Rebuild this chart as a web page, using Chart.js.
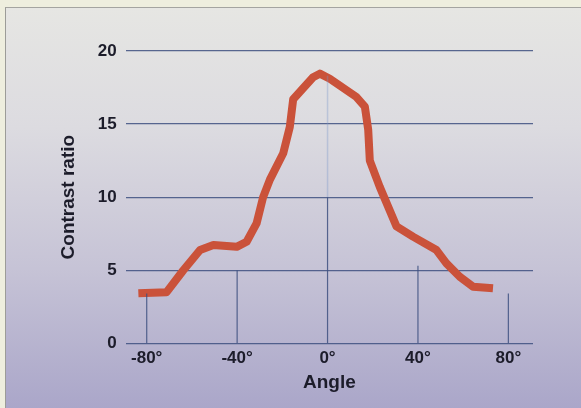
<!DOCTYPE html>
<html>
<head>
<meta charset="utf-8">
<script src="https://cdn.jsdelivr.net/npm/chart.js@4/dist/chart.umd.min.js"></script>
<style>
  html, body { margin: 0; padding: 0; background: #eeeede; }
  #panel {
    position: absolute; left: 5px; top: 7px; width: 576px; height: 401px;
    border-left: 1px solid #9c9c98; border-top: 1px solid #a4a4a0;
    background: linear-gradient(to bottom, #e6e6e3 0%, #dcdbe0 30%, #c6c3d6 65%, #aaa6c9 100%);
  }
  #wrap { position: absolute; left: 0; top: 0; width: 581px; height: 408px; }
</style>
</head>
<body>
<div id="panel"></div>
<div id="wrap"><canvas id="chart" width="581" height="408"></canvas></div>
<script>

// contrast ratio vs viewing angle
var angles = [-83.7, -71.2, -63.8, -56.4, -50.5, -40.2, -35.8, -31.4, -28.5, -25.5, -19.6, -16.7, -15.2, -6.4, -3.4, 1.0, 12.8, 16.5, 18.0, 18.7, 23.1, 30.5, 37.8, 48.2, 52.6, 58.5, 64.4, 73.2];
var ratios = [3.42, 3.5, 5.0, 6.38, 6.72, 6.6, 6.95, 8.2, 10.0, 11.2, 13.0, 14.8, 16.7, 18.2, 18.45, 18.1, 16.85, 16.2, 14.6, 12.5, 10.7, 8.0, 7.3, 6.38, 5.47, 4.55, 3.87, 3.76];

var xTicks = [-80, -40, 0, 40, 80];
var yTicks = [0, 5, 10, 15, 20];

// drop lines from the axis up to the curve
var dropAngles = [-80, -40, 0, 40, 80];
var dropHeights = [3.4, 5.0, 10, 5.3, 3.4];

var gridColor = 'rgba(62,80,128,0.85)';
var inkColor = '#1c1c2a';

var datasets = [];

for (var i = 0; i < dropAngles.length; i++) {
	datasets.push({
		data: [{x: dropAngles[i], y: 0}, {x: dropAngles[i], y: dropHeights[i]}],
		borderColor: gridColor,
		borderWidth: 1.2,
		pointRadius: 0
	});
}
// faint upper part of the 0 degree line
datasets.push({
	data: [{x: 0, y: 10}, {x: 0, y: 18.3}],
	borderColor: 'rgba(120,150,200,0.35)',
	borderWidth: 1.5,
	pointRadius: 0
});

datasets.push({
	data: angles.map(function(a, i){ return {x: a, y: ratios[i]}; }),
	borderColor: 'rgb(202,82,58)',
	borderWidth: 8,
	borderJoinStyle: 'round',
	borderCapStyle: 'butt',
	pointRadius: 0,
	tension: 0
});

var tickFont = { family: "'Liberation Sans', Arial, sans-serif", size: 17, weight: 'bold' };
var titleFont = { family: "'Liberation Sans', Arial, sans-serif", size: 19, weight: 'bold' };

new Chart(document.getElementById('chart'), {
	type: 'line',
	data: { datasets: datasets },
	options: {
		responsive: false,
		animation: false,
		events: [],
		layout: { padding: { left: 50, right: 48, top: 51, bottom: 10 } },
		plugins: { legend: { display: false }, tooltip: { enabled: false } },
		scales: {
			x: {
				type: 'linear',
				min: -89.3,
				max: 90.9,
				afterBuildTicks: function(scale){ scale.ticks = xTicks.map(function(v){ return {value: v}; }); },
				afterFit: function(scale){ scale.height = 54.7; },
				grid: { display: false, drawTicks: false },
				border: { display: false },
				ticks: {
					padding: 5,
					color: inkColor,
					font: tickFont,
					maxRotation: 0,
					callback: function(v){ return v + '°'; }
				},
				title: { display: true, text: 'Angle', color: inkColor, font: titleFont, padding: { top: 0, bottom: 3.5 } }
			},
			y: {
				min: 0,
				max: 20,
				afterBuildTicks: function(scale){ scale.ticks = yTicks.map(function(v){ return {value: v}; }); },
				afterFit: function(scale){ scale.width = 75.7; },
				grid: { color: gridColor, lineWidth: 1.3, drawTicks: false },
				border: { display: false },
				ticks: { padding: 9, color: inkColor, font: tickFont },
				title: { display: true, text: 'Contrast ratio', color: inkColor, font: titleFont, padding: { top: 7.5, bottom: 0 } }
			}
		}
	}
});

</script>
</body>
</html>
